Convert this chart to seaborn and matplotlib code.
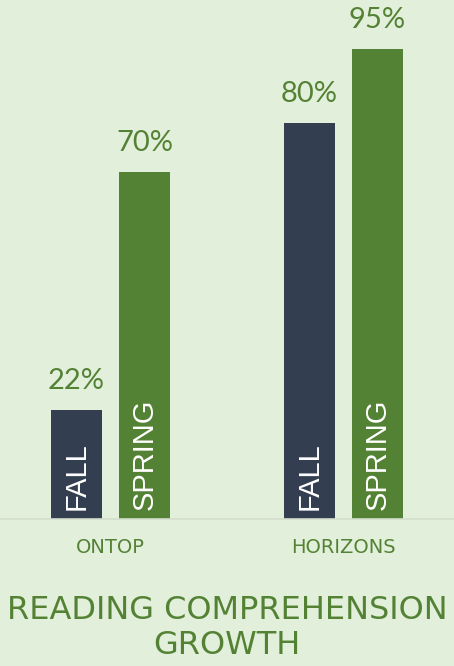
import pandas as pd
import matplotlib.pyplot as plt
import seaborn as sns
from matplotlib import font_manager

programs = ["ONTOP", "HORIZONS"]
terms = ["FALL", "SPRING"]
fall_pct = [22, 80]
spring_pct = [70, 95]

bg = "#E2EFDA"
green = "#548235"
navy = "#333F50"

df = pd.DataFrame({
    "program": programs * 2,
    "term": [terms[0]] * 2 + [terms[1]] * 2,
    "pct": fall_pct + spring_pct,
})

sns.set_theme(style="white")
names = {f.name for f in font_manager.fontManager.ttflist}
narrow = "Liberation Sans Narrow" if "Liberation Sans Narrow" in names else "DejaVu Sans"
plt.rcParams["font.family"] = ["Liberation Sans", "DejaVu Sans"]

fig = plt.figure(figsize=(4.54, 6.66), dpi=100)
fig.patch.set_facecolor(bg)
ax = fig.add_axes([0, 147 / 666, 1, 519 / 666])
ax.set_facecolor(bg)

sns.barplot(data=df, x="program", y="pct", hue="term", order=programs,
            hue_order=terms, palette=[navy, green], width=0.584, gap=0.25,
            ax=ax, legend=False, saturation=1, linewidth=0)

ax.set_xlim(-0.474, 1.474)
ax.set_ylim(0, 104.8)
ax.set_yticks([])
ax.set_xlabel("")
ax.set_ylabel("")
for s in ["top", "left", "right"]:
    ax.spines[s].set_visible(False)
ax.spines["bottom"].set_color("#D3DDCD")
ax.spines["bottom"].set_linewidth(1.2)
ax.tick_params(axis="x", length=0, pad=14, labelsize=14, colors=green)
for lbl in ax.get_xticklabels():
    lbl.set_fontfamily(narrow)

for cont, term in zip(ax.containers, terms):
    for bar in cont:
        cx = bar.get_x() + bar.get_width() / 2
        h = bar.get_height()
        ax.text(cx, h + 3.2, f"{h:.0f}%", ha="center", va="bottom",
                color=green, fontsize=21, fontfamily="Lato")
        ax.text(cx, 1.8, term, rotation=90, ha="center", va="bottom",
                color="white", fontsize=21)

fig.text(0.5, 38 / 666, "READING COMPREHENSION\nGROWTH", ha="center",
         va="center", color=green, fontsize=23, fontfamily=narrow,
         linespacing=1.2)

fig.savefig("out.png", dpi=100, facecolor=bg)
